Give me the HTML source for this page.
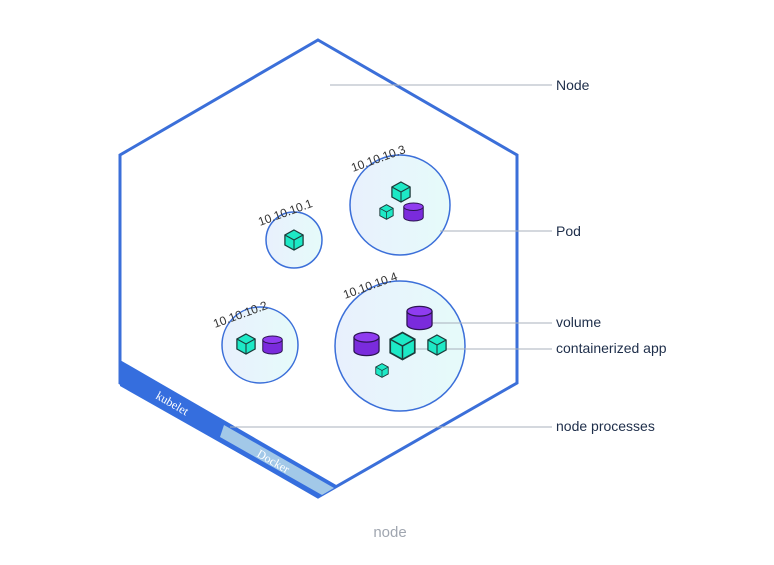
<!DOCTYPE html>
<html><head><style>body{margin:0;background:#fff}svg{display:block}</style></head><body>
<svg width="774" height="565" viewBox="0 0 774 565" xmlns="http://www.w3.org/2000/svg">
<defs>
<linearGradient id="g" x1="0" x2="1"><stop offset="0" stop-color="#e8f0fd"/><stop offset="1" stop-color="#e6fbfa"/></linearGradient>
<symbol id="cube" viewBox="-11 -12 22 24" overflow="visible">
<polygon points="0,-11 10,-5.5 10,5.5 0,11 -10,5.5 -10,-5.5" fill="#1de9c6" stroke="#1c3b3a" stroke-width="1.4"/>
<polyline points="-10,-5.5 0,0 10,-5.5" fill="none" stroke="#1c3b3a" stroke-width="1.2"/>
<line x1="0" y1="0" x2="0" y2="11" stroke="#1c3b3a" stroke-width="1.2"/>
</symbol>
<symbol id="cyl" viewBox="-14 -13 28 26" overflow="visible">
<path d="M-13,-7 v14 a13,5 0 0 0 26,0 v-14" fill="#7a2bdc" stroke="#2b1550" stroke-width="1.3"/>
<ellipse cx="0" cy="-7" rx="13" ry="5" fill="#8f3cf0" stroke="#2b1550" stroke-width="1.3"/>
</symbol>
</defs>
<polygon points="318,40 517,155 517,383 318,497 120,383 120,155" fill="#fff" stroke="#3b6fd9" stroke-width="3"/>
<polygon points="120,360 338,486 318,498 120,386" fill="#356ede"/>
<polygon points="224,425 334,488 322,495 220,437" fill="#a2c8e8"/>
<text x="0" y="0" transform="translate(155,398) rotate(30)" font-family="Liberation Serif,serif" font-size="12" fill="#fff">kubelet</text>
<text x="0" y="0" transform="translate(256,456) rotate(30)" font-family="Liberation Serif,serif" font-size="12" fill="#fff">Docker</text>
<g fill="url(#g)" stroke="#3b6fd9" stroke-width="1.5">
<circle cx="294" cy="240" r="28"/>
<circle cx="400" cy="205" r="50"/>
<circle cx="260" cy="345" r="38"/>
<circle cx="400" cy="346" r="65"/>
</g>
<g stroke="#a8b0bc" stroke-width="1">
<line x1="330" y1="85" x2="552" y2="85"/>
<line x1="440" y1="231" x2="552" y2="231"/>
<line x1="412" y1="323" x2="552" y2="323"/>
<line x1="402" y1="349" x2="552" y2="349"/>
<line x1="230" y1="427" x2="552" y2="427"/>
</g>
<use href="#cube" x="284" y="229" width="20" height="22"/>
<use href="#cube" x="391" y="181" width="20" height="22"/>
<use href="#cube" x="379" y="204" width="15" height="16"/>
<use href="#cyl" x="403" y="202" width="21" height="20"/>
<use href="#cube" x="236" y="333" width="20" height="22"/>
<use href="#cyl" x="262" y="335" width="21" height="20"/>
<use href="#cyl" x="406" y="305" width="27" height="26"/>
<use href="#cyl" x="353" y="331" width="27" height="26"/>
<use href="#cube" x="389" y="331" width="27" height="30"/>
<use href="#cube" x="427" y="334" width="20" height="22"/>
<use href="#cube" x="375" y="363" width="14" height="15"/>
<g font-family="Liberation Sans,sans-serif" font-size="12" fill="#333">
<text transform="translate(260,226) rotate(-20)">10.10.10.1</text>
<text transform="translate(353,172) rotate(-20)">10.10.10.3</text>
<text transform="translate(215,328) rotate(-20)">10.10.10.2</text>
<text transform="translate(345,299) rotate(-20)">10.10.10.4</text>
</g>
<g font-family="Liberation Sans,sans-serif" font-size="14" fill="#1e2e4a">
<text x="556" y="90">Node</text>
<text x="556" y="236">Pod</text>
<text x="556" y="327">volume</text>
<text x="556" y="353">containerized app</text>
<text x="556" y="431">node processes</text>
</g>
<text x="390" y="537" text-anchor="middle" font-family="Liberation Sans,sans-serif" font-size="15" fill="#a0a6b0">node</text>
</svg>
</body></html>
